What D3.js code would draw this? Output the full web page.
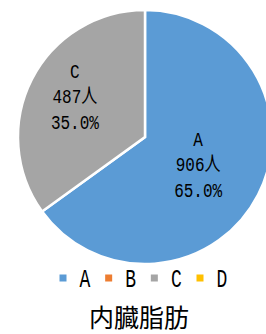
<!DOCTYPE html>
<html>
<head>
<meta charset="utf-8">
<script src="https://cdn.jsdelivr.net/npm/d3@7"></script>
<style>
  body { margin: 0; background: #fff; }
  text { font-family: "Liberation Mono", "Noto Sans CJK JP", monospace; fill: #000; }
</style>
</head>
<body>
<script>
var categories = ["A", "B", "C", "D"];
var counts = [906, 0, 487, 0];
var percents = ["65.0%", "0.0%", "35.0%", "0.0%"];
var colors = ["#5B9BD5", "#ED7D31", "#A5A5A5", "#FFC000"];
var title = "内臓脂肪";

var width = 266, height = 334;
var cx = 145, cy = 137, r = 127;

// vi tri nhan: ti le ban kinh + do lech doc
var labelRadius = { A: 0.47, C: 0.62 };
var labelDy = { A: 0, C: -5 };

var svg = d3.select("body").append("svg")
    .attr("width", width)
    .attr("height", height);

var data = categories.map(function(c, i) {
    return { name: c, value: counts[i], pct: percents[i], color: colors[i] };
});

var pie = d3.pie().sort(null).value(function(d) { return d.value; });
var arc = d3.arc().innerRadius(0).outerRadius(r);

var g = svg.append("g").attr("transform", "translate(" + cx + "," + cy + ")");

var arcs = pie(data).filter(function(d) { return d.value > 0; });

g.selectAll("path")
    .data(arcs)
    .enter().append("path")
    .attr("d", arc)
    .style("fill", function(d) { return d.data.color; })
    .style("stroke", "#fff")
    .style("stroke-width", 2.5);

// nhan tren tung mieng
var lab = g.selectAll("g.lab")
    .data(arcs)
    .enter().append("g")
    .attr("class", "lab")
    .attr("transform", function(d) {
        var k = (labelRadius[d.data.name] || 0.55) * r;
        var p = d3.arc().innerRadius(k).outerRadius(k).centroid(d);
        return "translate(" + p[0] + "," + (p[1] + (labelDy[d.data.name] || 0)) + ")";
    });

lab.each(function(d) {
    var lines = [d.data.name, d.data.value + "人", d.data.pct];
    var sel = d3.select(this);
    lines.forEach(function(t, i) {
        sel.append("text")
            .attr("transform", "translate(0," + ((i - 1) * 25.5 + 7) + ") scale(0.8,1)")
            .attr("text-anchor", "middle")
            .style("font-size", "20px")
            .text(t);
    });
});

// legend
var legendX = d3.scalePoint().domain(categories).range([63, 200]);
var leg = svg.append("g").selectAll("g")
    .data(data)
    .enter().append("g")
    .attr("transform", function(d) { return "translate(" + legendX(d.name) + ",278)"; });

leg.append("rect")
    .attr("x", -3.5).attr("y", -3.5)
    .attr("width", 7).attr("height", 7)
    .style("fill", function(d) { return d.color; });

leg.append("text")
    .attr("transform", "translate(22,9) scale(0.72,1)")
    .attr("text-anchor", "middle")
    .style("font-size", "25px")
    .text(function(d) { return d.name; });

svg.append("text")
    .attr("x", 139).attr("y", 327)
    .attr("text-anchor", "middle")
    .style("font-family", "'Noto Sans CJK JP', sans-serif")
    .style("font-size", "25px")
    .text(title);
</script>
</body>
</html>
